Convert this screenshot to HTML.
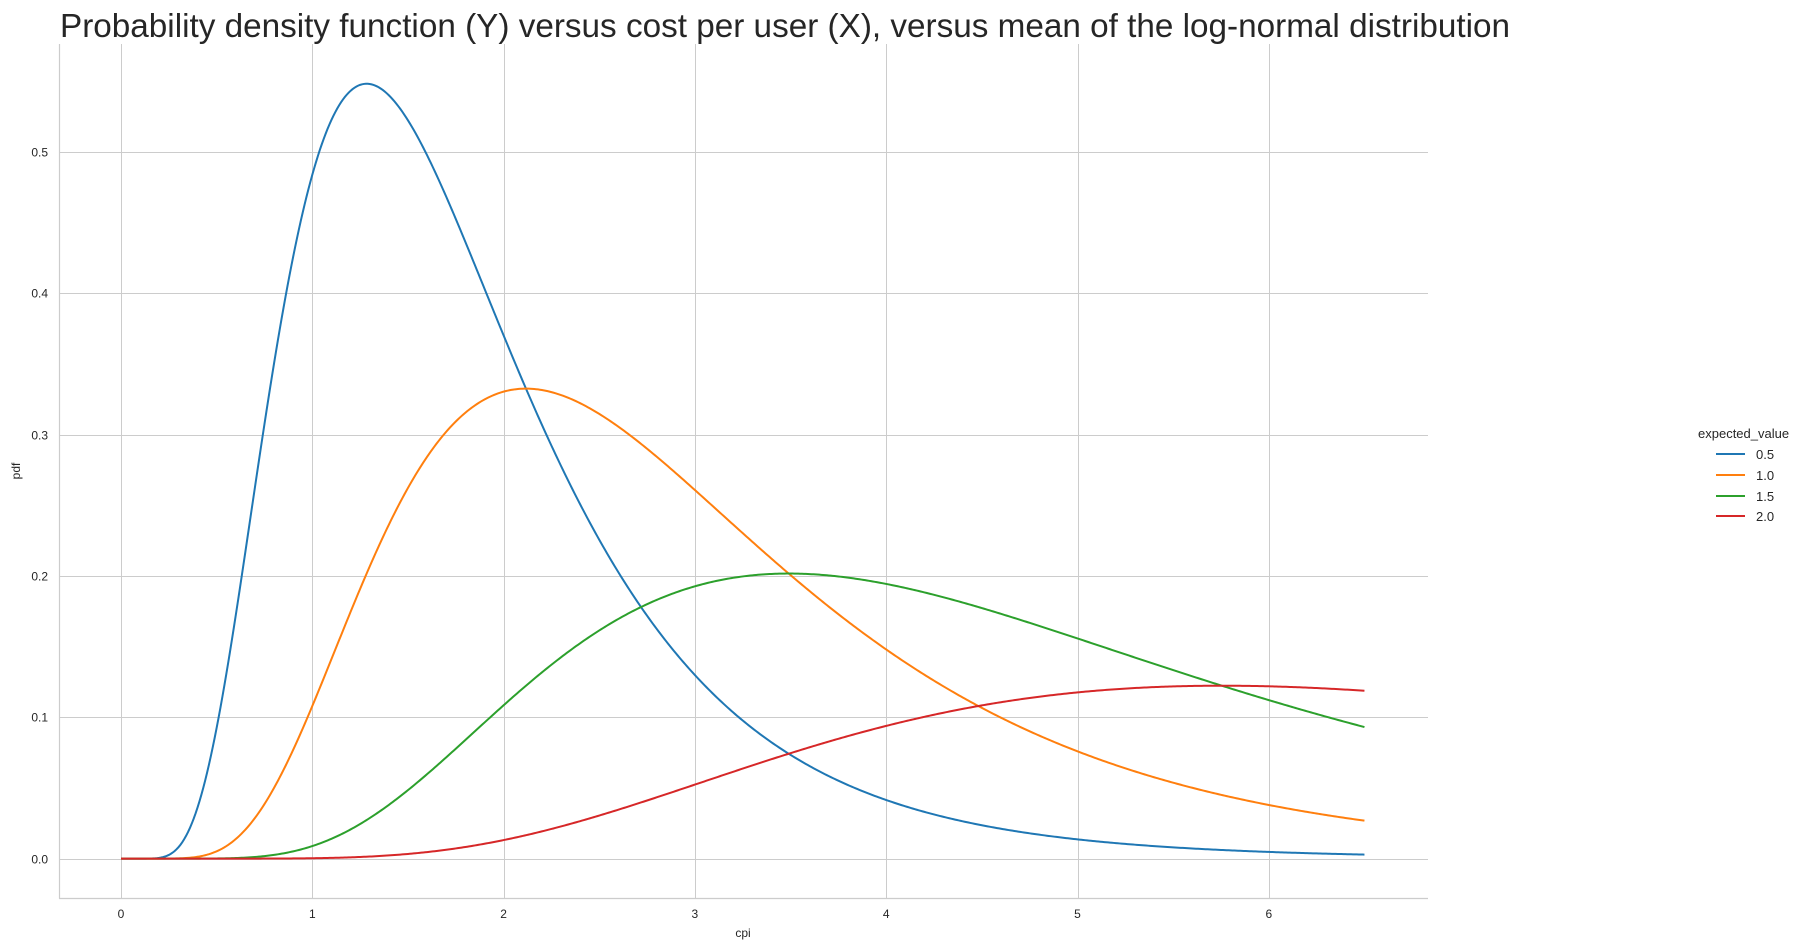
<!DOCTYPE html>
<html><head><meta charset="utf-8"><style>
html,body{margin:0;padding:0;background:#fff;}
svg{display:block;font-family:"Liberation Sans",Arial,sans-serif;}
</style></head><body>
<svg id="s" width="1807" height="951" xmlns="http://www.w3.org/2000/svg">
<text x="60" y="37" font-size="33" fill="#262626" textLength="1450" lengthAdjust="spacingAndGlyphs">Probability density function (Y) versus cost per user (X), versus mean of the log-normal distribution</text>
<g id="grid" stroke="#cccccc" stroke-width="1"></g>
<g id="ticks" font-size="12" fill="#262626"></g>
<g id="curves" fill="none" stroke-width="2"></g>
<line x1="59.5" y1="44" x2="59.5" y2="898.5" stroke="#cccccc" stroke-width="1.2"/>
<line x1="59" y1="898.5" x2="1428" y2="898.5" stroke="#cccccc" stroke-width="1.2"/>
<text x="743" y="937" font-size="12" fill="#262626" text-anchor="middle">cpi</text>
<text transform="translate(20,471) rotate(-90)" font-size="12" fill="#262626" text-anchor="middle">pdf</text>
<text x="1698" y="438" font-size="13" fill="#262626">expected_value</text>
<g font-size="13" fill="#262626">
<line x1="1716" y1="454" x2="1745" y2="454" stroke="#1f77b4" stroke-width="2"/><text x="1756" y="459">0.5</text>
<line x1="1716" y1="475" x2="1745" y2="475" stroke="#ff7f0e" stroke-width="2"/><text x="1756" y="480">1.0</text>
<line x1="1716" y1="496" x2="1745" y2="496" stroke="#2ca02c" stroke-width="2"/><text x="1756" y="501">1.5</text>
<line x1="1716" y1="516" x2="1745" y2="516" stroke="#d62728" stroke-width="2"/><text x="1756" y="521">2.0</text>
</g>
</svg>
<script>
var NS="http://www.w3.org/2000/svg";
function X(v){return 121+v*191.3;}
function Y(v){return 858.6-v*1413;}
function el(t,a,p,txt){var e=document.createElementNS(NS,t);for(var k in a)e.setAttribute(k,a[k]);if(txt!==undefined)e.textContent=txt;document.getElementById(p).appendChild(e);}
for(var i=0;i<=6;i++){var x=Math.round(X(i))+0.5;el("line",{x1:x,y1:44,x2:x,y2:898},"grid");el("text",{x:X(i),y:918,"text-anchor":"middle"},"ticks",String(i));}
for(var j=0;j<=5;j++){var y=Math.round(Y(j/10))+0.5;el("line",{x1:59,y1:y,x2:1428,y2:y},"grid");el("text",{x:48,y:y+4,"text-anchor":"end"},"ticks",(j/10).toFixed(1));}
var cols=["#1f77b4","#ff7f0e","#2ca02c","#d62728"],mus=[0.5,1,1.5,2],s=0.5;
for(var c=0;c<4;c++){var d="";for(var k=0;k<=650;k++){var xv=k/100;var p=0;if(xv>0){var z=(Math.log(xv)-mus[c])/s;p=Math.exp(-z*z/2)/(xv*s*Math.sqrt(2*Math.PI));}d+=(k?"L":"M")+X(xv).toFixed(2)+","+Y(p).toFixed(2);}el("path",{d:d,stroke:cols[c]},"curves");}
</script>
</body></html>
